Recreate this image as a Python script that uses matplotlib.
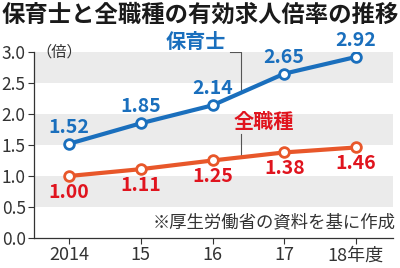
import matplotlib
matplotlib.use("Agg")
import matplotlib.pyplot as plt

plt.rcParams['font.family'] = ['Noto Sans CJK JP', 'DejaVu Sans']

years = ["2014", "15", "16", "17", "18年度"]
hoikushi = [1.52, 1.85, 2.14, 2.65, 2.92]
zenshoku = [1.00, 1.11, 1.25, 1.38, 1.46]
yticks = [0.0, 0.5, 1.0, 1.5, 2.0, 2.5, 3.0]

BLUE = "#1a6fbd"
ORANGE = "#e8572a"
RED = "#e0141e"

fig = plt.figure(figsize=(4.0, 2.68), dpi=100)
ax = fig.add_axes([0.085, 0.112, 0.898, 0.694])

x = list(range(len(years)))
ax.set_xlim(-0.49, 4.52)
ax.set_ylim(0, 3.0)

for lo in [0.5, 1.5, 2.5]:
    ax.axhspan(lo, lo + 0.5, color="#ebebeb", lw=0, zorder=0)

ax.plot(x, hoikushi, color=BLUE, lw=3, marker="o", ms=7,
        mfc="white", mec=BLUE, mew=2, zorder=3)
ax.plot(x, zenshoku, color=ORANGE, lw=3, marker="o", ms=7,
        mfc="white", mec=ORANGE, mew=2, zorder=3)

for i, v in enumerate(hoikushi):
    ax.text(i, v + 0.11, f"{v:.2f}", color=BLUE, ha="center", va="bottom",
            fontsize=14, fontweight="bold")
for i, v in enumerate(zenshoku):
    ax.text(i, v - 0.11, f"{v:.2f}", color=RED, ha="center", va="top",
            fontsize=14, fontweight="bold")

# series labels with leader lines
ax.text(1.76, 3.17, "保育士", color=BLUE, ha="center", va="center",
        fontsize=14.5, fontweight="bold", zorder=4)
ax.plot([2.25, 2.4, 2.4], [3.0, 3.0, 2.35], color="#555555", lw=0.8, zorder=2)
ax.text(2.72, 1.88, "全職種", color=RED, ha="center", va="center",
        fontsize=14.5, fontweight="bold", zorder=4)
ax.plot([2.4, 2.4], [1.67, 1.3], color="#555555", lw=0.8, zorder=2)

ax.text(-0.46, 3.0, "（倍）", ha="left", va="center", fontsize=11,
        color="#333333")
ax.text(4.55, 0.26, "※厚生労働省の資料を基に作成", ha="right", va="center",
        fontsize=12.5, color="#333333")

ax.set_xticks(x)
ax.set_xticklabels(years, fontsize=13, color="#333333")
ax.set_yticks(yticks)
ax.set_yticklabels([f"{t:.1f}" for t in yticks], fontsize=12.5,
                   color="#333333")
ax.tick_params(axis="both", length=4, width=0.8, color="#333333", pad=2)

for side in ["top", "right"]:
    ax.spines[side].set_visible(False)
for side in ["left", "bottom"]:
    ax.spines[side].set_color("#333333")
    ax.spines[side].set_linewidth(0.9)

fig.text(0.003, 0.99, "保育士と全職種の有効求人倍率の推移", ha="left",
         va="top", fontsize=16.8, fontweight="bold", color="#1a1a1a")

fig.savefig("out.png", dpi=100)
